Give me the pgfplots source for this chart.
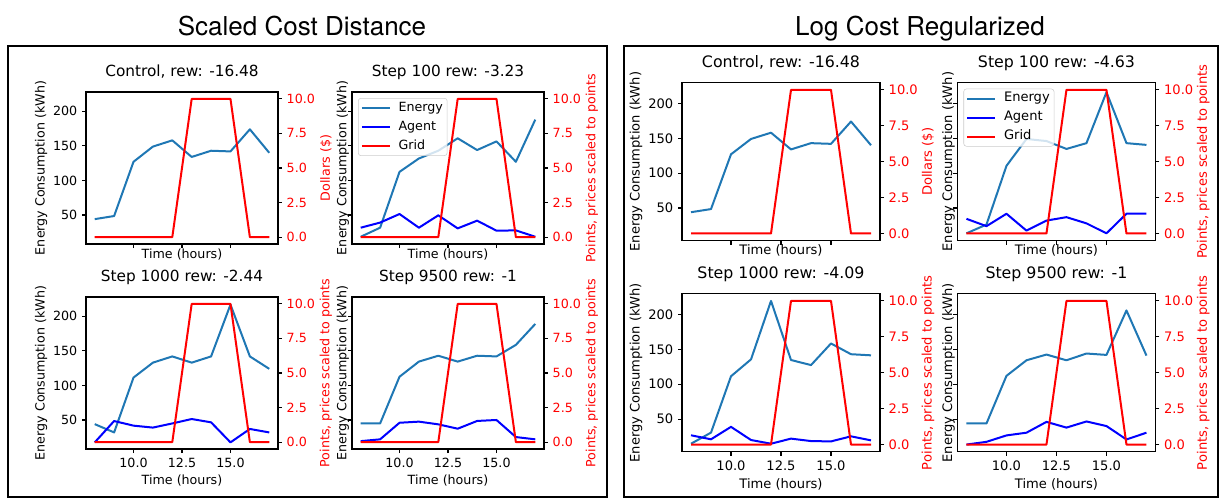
\documentclass[border=0pt]{standalone}
\usepackage{fontspec}
\setmainfont{DejaVu Sans}
\newfontfamily\heros{TeX Gyre Heros}
\usepackage{pgfplots}
\usepackage{pgfplotstable}
\pgfplotsset{compat=1.18}

\definecolor{energyc}{HTML}{1F77B4}
\definecolor{agentc}{HTML}{0000FF}
\definecolor{gridc}{HTML}{FF0000}

% hourly series, scaled cost distance runs
\pgfplotstableread{
t  ctrl  e100  a100  e1000 a1000 e9500 a9500 grid
8  44    18.5  31.6  44    17.6  45    19.4  0
9  48.5  31.6  39    32    48.5  45    22    0
10 127   112.4 51.4  111.4 41.8  112.6 46    0
11 149   131.8 31.6  133   39    134.5 47.6  0
12 158   143   49.5  142   45    143   43.7  0
13 134   161   30.6  133   51.4  134.5 37.4  10
14 143   144   41.8  142   46.6  143   48.6  10
15 142   156.5 27.3  217   17.6  142   50    10
16 174   127   27.7  142   37    158.7 25.3  0
17 140   188   18.5  124   32    189   22    0
}\scaledtab

% hourly series, log cost regularized runs
\pgfplotstableread{
t  ctrl  e100  a100  e1000 a1000 e9500 a9500 grid
8  44    13.7  34.5  14.7  26.8  43.7  13.5  0
9  48.5  26.3  24    30.6  21    43.7  17.4  0
10 127   110.5 41.8  111.4 38.9  112   26.6  0
11 149   149   17.6  135.6 20    134.3 30.5  0
12 158   146   32    219.4 14.7  142.5 46    0
13 134   134.7 36.9  134.7 22    134.3 37.8  10
14 143   143   28    127.4 18.5  144   46.6  10
15 142   216   13.7  158.4 18    142   40    10
16 174   143   41.8  143   25.3  205.8 20.8  0
17 140   140.5 41.8  141.4 19.5  141   30.5  0
}\logtab

\tikzset{
  enl/.style={color=energyc, line width=1.5pt, line join=round},
  agl/.style={color=agentc, line width=1.5pt, line join=round},
  grl/.style={color=gridc, line width=1.5pt, line join=round},
}

\pgfplotsset{
  sub/.style={
    scale only axis, anchor=south west,
    xmin=7.55, xmax=17.45, xtick={10,12.5,15},
    tick align=outside, major tick length=3pt,
    axis line style={line width=0.8pt, black},
    every tick/.style={black, line width=0.8pt},
    /pgf/number format/assume math mode=true,
    x tick label style={/pgf/number format/.cd, fixed, fixed zerofill, precision=1},
    clip=false,
  },
  lp/.style={width=144pt, height=114pt,
    tick label style={font=\fontsize{9.5}{11.4}\selectfont},
    label style={font=\fontsize{9.5}{11.4}\selectfont},
    title style={font=\fontsize{11.5}{13.8}\selectfont},
    legend style={font=\fontsize{9.5}{11.4}\selectfont},
  },
  rp/.style={width=148.5pt, height=118.5pt,
    tick label style={font=\fontsize{9.8}{11.8}\selectfont},
    label style={font=\fontsize{9.8}{11.8}\selectfont},
    title style={font=\fontsize{11.85}{14.2}\selectfont},
    legend style={font=\fontsize{9.8}{11.8}\selectfont},
  },
  enax/.style={tick pos=left, ytick={50,100,150,200}, ylabel={Energy Consumption (kWh)}},
  grax/.style={hide x axis, ytick pos=right, yticklabel pos=right,
    ymin=-0.5, ymax=10.5, ytick={0,2.5,5,7.5,10},
    y tick label style={text=red, /pgf/number format/.cd, fixed, fixed zerofill, precision=1},
    ylabel style={text=red}},
  nox/.style={xticklabels={}},
  noy/.style={yticklabels={}},
  ttl/.style={title style={at={(axis description cs:0.5,#1)}, anchor=base}},
  xlab/.style={xlabel={Time (hours)}, xlabel style={at={(axis description cs:0.5,#1)}, anchor=base}},
  ylab/.style={ylabel style={at={(axis description cs:#1,0.5)}, anchor=center}},
  leg/.style={
    legend style={at={(axis description cs:0,1)}, anchor=north west,
      xshift=4.5pt, yshift=-4.5pt, draw=black!20, rounded corners=2pt,
      fill=white, fill opacity=0.8, text opacity=1, draw opacity=1,
      inner xsep=2pt, inner ysep=1.5pt, row sep=2.6pt, column sep=4.5pt,
      nodes={inner sep=1.2pt, text height=7pt, text depth=2.2pt}},
    legend cell align=left,
    legend image code/.code={\draw[##1] (0pt,0pt) -- (21pt,0pt);},
  },
}

\begin{document}
\begin{tikzpicture}
\path[use as bounding box] (0pt,0pt) rectangle (918pt,-377.25pt);

% panel frames and headings
\draw[line width=1.6pt] (6pt,-34.5pt) rectangle (455.25pt,-372.75pt);
\draw[line width=1.6pt] (468pt,-34.5pt) rectangle (913.5pt,-372.75pt);
\node[anchor=base, font=\heros\fontsize{19.5}{23}\selectfont] at (226.5pt,-27pt) {Scaled Cost Distance};
\node[anchor=base, font=\heros\fontsize{19.5}{23}\selectfont] at (690pt,-27pt) {Log Cost Regularized};

%%%%%%%%%%%% Scaled Cost Distance %%%%%%%%%%%%
% Control
\begin{axis}[sub, lp, enax, nox, at={(64.5pt,-183pt)}, ymin=8, ymax=228,
  title={Control, rew: -16.48}, ttl=1.051, xlab=-0.094, ylab=-0.234]
\addplot[enl] table[x=t, y=ctrl] {\scaledtab};
\end{axis}
\begin{axis}[sub, lp, grax, at={(64.5pt,-183pt)}, ylabel={Dollars (\$)}, ylab=1.25]
\addplot[grl] table[x=t, y=grid] {\scaledtab};
\end{axis}

% Step 100
\begin{axis}[sub, lp, enax, nox, noy, at={(264pt,-183pt)}, ymin=8, ymax=228,
  title={Step 100 rew: -3.23}, ttl=1.051, xlab=-0.094, ylab=-0.047]
\addplot[enl] table[x=t, y=e100] {\scaledtab};
\addplot[agl] table[x=t, y=a100] {\scaledtab};
\end{axis}
\begin{axis}[sub, lp, grax, leg, at={(264pt,-183pt)}, ylabel={Points, prices scaled to points}, ylab=1.25]
\addlegendimage{enl}\addlegendentry{Energy}
\addlegendimage{agl}\addlegendentry{Agent}
\addplot[grl] table[x=t, y=grid] {\scaledtab};
\addlegendentry{Grid}
\end{axis}

% Step 1000
\begin{axis}[sub, lp, enax, at={(64.5pt,-336.75pt)}, ymin=8, ymax=228,
  title={Step 1000 rew: -2.44}, ttl=1.051, xlab=-0.232, ylab=-0.234]
\addplot[enl] table[x=t, y=e1000] {\scaledtab};
\addplot[agl] table[x=t, y=a1000] {\scaledtab};
\end{axis}
\begin{axis}[sub, lp, grax, at={(64.5pt,-336.75pt)}, ylabel={Points, prices scaled to points}, ylab=1.25]
\addplot[grl] table[x=t, y=grid] {\scaledtab};
\end{axis}

% Step 9500
\begin{axis}[sub, lp, enax, noy, at={(264pt,-336.75pt)}, ymin=8, ymax=228,
  title={Step 9500 rew: -1}, ttl=1.051, xlab=-0.232, ylab=-0.047]
\addplot[enl] table[x=t, y=e9500] {\scaledtab};
\addplot[agl] table[x=t, y=a9500] {\scaledtab};
\end{axis}
\begin{axis}[sub, lp, grax, at={(264pt,-336.75pt)}, ylabel={Points, prices scaled to points}, ylab=1.25]
\addplot[grl] table[x=t, y=grid] {\scaledtab};
\end{axis}

%%%%%%%%%%%% Log Cost Regularized %%%%%%%%%%%%
% Control
\begin{axis}[sub, rp, enax, nox, at={(511.5pt,-180.5pt)}, ymin=3.2, ymax=229.7,
  title={Control, rew: -16.48}, ttl=1.046, xlab=-0.089, ylab=-0.232]
\addplot[enl] table[x=t, y=ctrl] {\logtab};
\end{axis}
\begin{axis}[sub, rp, grax, at={(511.5pt,-180.5pt)}, ylabel={Dollars (\$)}, ylab=1.242]
\addplot[grl] table[x=t, y=grid] {\logtab};
\end{axis}

% Step 100
\begin{axis}[sub, rp, enax, nox, noy, at={(718.1pt,-180.5pt)}, ymin=3.2, ymax=229.7,
  title={Step 100 rew: -4.63}, ttl=1.046, xlab=-0.089, ylab=-0.045]
\addplot[enl] table[x=t, y=e100] {\logtab};
\addplot[agl] table[x=t, y=a100] {\logtab};
\end{axis}
\begin{axis}[sub, rp, grax, leg, at={(718.1pt,-180.5pt)}, ylabel={Points, prices scaled to points}, ylab=1.242]
\addlegendimage{enl}\addlegendentry{Energy}
\addlegendimage{agl}\addlegendentry{Agent}
\addplot[grl] table[x=t, y=grid] {\logtab};
\addlegendentry{Grid}
\end{axis}

% Step 1000
\begin{axis}[sub, rp, enax, at={(511.5pt,-338.8pt)}, ymin=3.2, ymax=229.7,
  title={Step 1000 rew: -4.09}, ttl=1.046, xlab=-0.23, ylab=-0.232]
\addplot[enl] table[x=t, y=e1000] {\logtab};
\addplot[agl] table[x=t, y=a1000] {\logtab};
\end{axis}
\begin{axis}[sub, rp, grax, at={(511.5pt,-338.8pt)}, ylabel={Points, prices scaled to points}, ylab=1.242]
\addplot[grl] table[x=t, y=grid] {\logtab};
\end{axis}

% Step 9500
\begin{axis}[sub, rp, enax, noy, at={(718.1pt,-338.8pt)}, ymin=3.2, ymax=229.7,
  title={Step 9500 rew: -1}, ttl=1.046, xlab=-0.23, ylab=-0.045]
\addplot[enl] table[x=t, y=e9500] {\logtab};
\addplot[agl] table[x=t, y=a9500] {\logtab};
\end{axis}
\begin{axis}[sub, rp, grax, at={(718.1pt,-338.8pt)}, ylabel={Points, prices scaled to points}, ylab=1.242]
\addplot[grl] table[x=t, y=grid] {\logtab};
\end{axis}
\end{tikzpicture}
\end{document}
